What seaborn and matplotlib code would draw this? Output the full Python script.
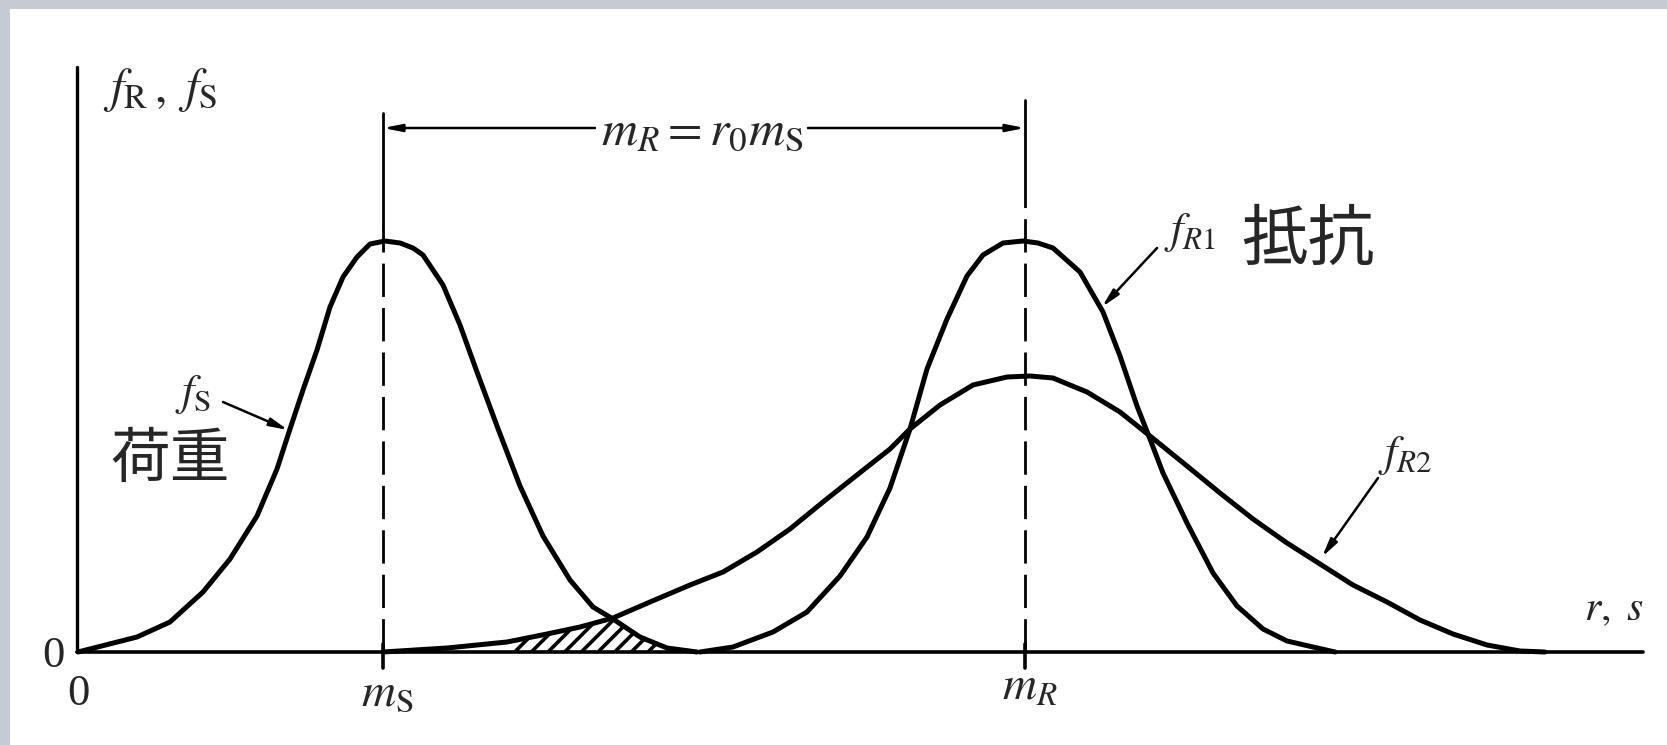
import matplotlib
matplotlib.use("Agg")
import matplotlib.pyplot as plt
import seaborn as sns

# 荷重 f_S (load): r/s position and density height
fs_x = [0.00, 0.59, 0.92, 1.25, 1.52, 1.79, 1.99, 2.12, 2.25, 2.39, 2.52, 2.65, 2.79, 2.92,
        3.07, 3.22, 3.35, 3.45, 3.65, 3.82, 3.99, 4.19, 4.42, 4.65, 4.92, 5.15, 5.35, 5.62,
        5.89, 6.19]
fs_y = [0.00, 0.15, 0.30, 0.60, 0.93, 1.36, 1.83, 2.23, 2.62, 3.02, 3.45, 3.75, 3.95, 4.08,
        4.11, 4.09, 4.04, 3.97, 3.67, 3.27, 2.80, 2.26, 1.66, 1.16, 0.72, 0.45, 0.33, 0.15,
        0.04, 0.00]

# 抵抗 f_R1 (narrow resistance)
fr1_x = [6.22, 6.55, 6.95, 7.29, 7.62, 7.89, 8.12, 8.32, 8.49, 8.69, 8.89, 9.05, 9.25, 9.45,
         9.60, 9.75, 10.02, 10.25, 10.42, 10.59, 10.72, 10.85, 11.09, 11.35, 11.59, 11.85,
         12.09, 12.35, 12.57]
fr1_y = [0.00, 0.05, 0.20, 0.40, 0.76, 1.15, 1.64, 2.23, 2.83, 3.33, 3.76, 3.97, 4.09, 4.11,
         4.09, 4.04, 3.80, 3.40, 2.96, 2.46, 2.13, 1.79, 1.29, 0.79, 0.46, 0.23, 0.11, 0.05,
         0.00]

# 抵抗 f_R2 (wide, skewed resistance)
fr2_x = [3.05, 3.69, 4.29, 4.69, 5.02, 5.35, 5.72, 6.12, 6.45, 6.79, 7.12, 7.45, 7.79, 8.12,
         8.32, 8.62, 8.95, 9.29, 9.52, 9.75, 10.09, 10.42, 10.72, 11.09, 11.42, 11.75, 12.09,
         12.42, 12.75, 13.09, 13.42, 13.75, 14.09, 14.42, 14.67]
fr2_y = [0.00, 0.04, 0.10, 0.18, 0.25, 0.34, 0.50, 0.67, 0.80, 1.00, 1.23, 1.50, 1.77, 2.03,
         2.23, 2.47, 2.67, 2.75, 2.76, 2.74, 2.60, 2.40, 2.16, 1.86, 1.59, 1.33, 1.09, 0.88,
         0.67, 0.50, 0.32, 0.18, 0.07, 0.01, 0.00]

# overlap (failure) region under min(f_S, f_R2)
overlap_x = [4.32, 4.69, 5.02, 5.35, 5.62, 5.85]
overlap_y = [0.10, 0.18, 0.25, 0.34, 0.15, 0.04]

m_s = 3.05
m_r = 9.47

sns.set_theme(style="white")
plt.rcParams["font.family"] = ["Liberation Serif", "Noto Sans CJK JP", "DejaVu Sans"]
plt.rcParams["mathtext.fontset"] = "stix"
plt.rcParams["hatch.linewidth"] = 2.6

fig = plt.figure(figsize=(16.67, 7.45), dpi=100, facecolor="#c6cad2")
ax = fig.add_axes([10 / 1667, 0, 1657 / 1667, 736 / 745], facecolor="white")
ax.set_xlim(-0.68, 15.89)
ax.set_ylim(-0.93, 6.43)
ax.set_xticks([])
ax.set_yticks([])
for s in ax.spines.values():
    s.set_visible(False)

# axes
ax.plot([-0.01, -0.01], [0, 5.85], color="black", lw=2.4)
ax.plot([-0.01, 15.65], [0, 0], color="black", lw=2.6)

# curves
for xs, ys in [(fs_x, fs_y), (fr1_x, fr1_y), (fr2_x, fr2_y)]:
    sns.lineplot(x=xs, y=ys, ax=ax, color="black", lw=3.6, estimator=None, sort=False,
                 solid_joinstyle="round", solid_capstyle="round")

ax.fill_between(overlap_x, 0, overlap_y, facecolor="white", edgecolor="black",
                hatch="//", lw=0)

# mean lines: solid extension on top, dashed below
for xm, top, solid_to in [(m_s, 5.39, 4.22), (m_r, 5.52, 4.50)]:
    ax.plot([xm, xm], [solid_to, top], color="black", lw=2.0)
    ax.plot([xm, xm], [0, solid_to], color="black", lw=2.0, dashes=(12, 4))
    ax.plot([xm, xm], [-0.16, 0.08], color="black", lw=2.6)

# dimension m_R = r0 m_S
dim_y = 5.24
arrow = dict(arrowstyle="-|>,head_length=0.9,head_width=0.18", lw=1.8, color="black",
             shrinkA=0, shrinkB=0)
ax.annotate("", xy=(m_s, dim_y), xytext=(5.17, dim_y), arrowprops=arrow)
ax.annotate("", xy=(m_r, dim_y), xytext=(7.30, dim_y), arrowprops=arrow)
ax.text(6.24, dim_y - 0.04, r"$m_R = r_0 m_{\rm S}$", fontsize=36, ha="center", va="center")

# labels
ax.text(0.82, 5.62, r"$f_{\rm R}\,,\ f_{\rm S}$", fontsize=35, ha="center", va="center")
ax.text(-0.25, -0.04, "0", fontsize=32, ha="center", va="center")
ax.text(0.0, -0.42, "0", fontsize=32, ha="center", va="center")
ax.text(m_s + 0.04, -0.42, r"$m_{\rm S}$", fontsize=34, ha="center", va="center")
ax.text(m_r + 0.05, -0.36, r"$m_R$", fontsize=34, ha="center", va="center")
ax.text(15.36, 0.42, r"$r,\ s$", fontsize=30, ha="center", va="center")

ax.text(1.15, 2.57, r"$f_{\rm S}$", fontsize=32, ha="center", va="center")
ax.text(11.12, 4.19, r"$f_{R1}$", fontsize=32, ha="center", va="center")
ax.text(13.27, 1.96, r"$f_{R2}$", fontsize=32, ha="center", va="center")

ax.text(0.92, 1.90, "荷重", fontsize=43, ha="center", va="center")
ax.text(12.30, 4.09, "抵抗", fontsize=48, ha="center", va="center")

small = dict(arrowstyle="-|>,head_length=0.9,head_width=0.2", lw=1.8, color="black",
             shrinkA=0, shrinkB=0)
ax.annotate("", xy=(2.10, 2.22), xytext=(1.45, 2.50), arrowprops=small)
ax.annotate("", xy=(10.24, 3.45), xytext=(10.79, 4.04), arrowprops=small)
ax.annotate("", xy=(12.44, 0.95), xytext=(13.00, 1.74), arrowprops=small)

fig.savefig("out.png", dpi=100, facecolor=fig.get_facecolor())
